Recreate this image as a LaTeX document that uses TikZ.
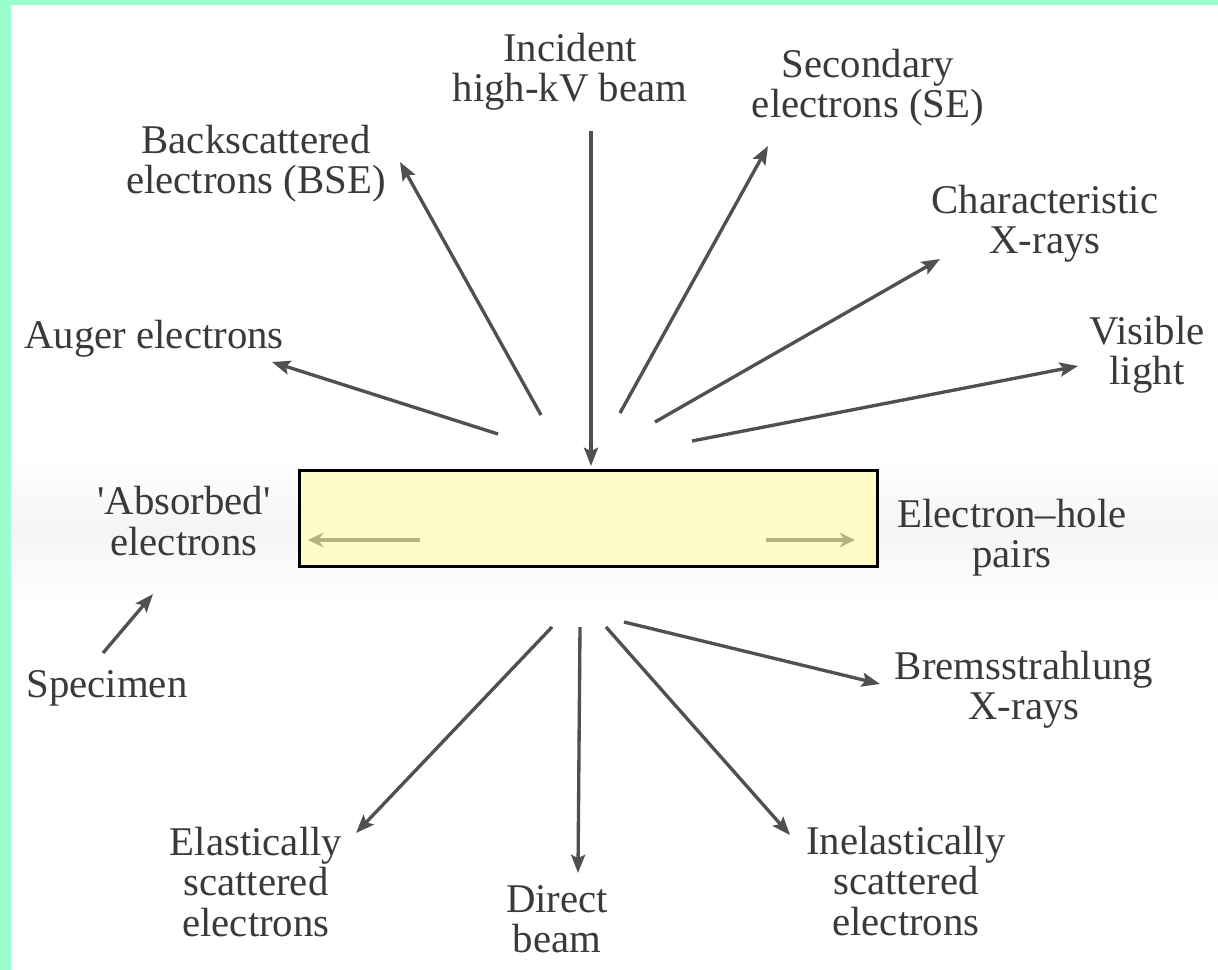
\documentclass[tikz,border=0pt]{standalone}
\usepackage{fontspec}
\setmainfont{Liberation Serif}
\usetikzlibrary{arrows.meta}
\definecolor{mint}{HTML}{99FFCC}
\definecolor{arrowgray}{HTML}{505050}
\definecolor{txtgray}{HTML}{3A3A3A}
\definecolor{specfill}{HTML}{FFFBC6}
\definecolor{khaki}{HTML}{B5B283}
\begin{document}
\begin{tikzpicture}[x=0.01cm,y=-0.01cm,
  lbl/.style={align=center, inner sep=0pt, text=txtgray, font=\fontsize{11.6}{11.4}\selectfont},
  ray/.style={draw=arrowgray, line width=0.95pt, -{Stealth[length=5.2pt,width=4pt,inset=1pt]}},
  innerarrow/.style={draw=khaki, line width=1pt, -{Stealth[length=4.4pt,width=4.2pt,inset=1.5pt]}},
  specbox/.style={draw=black, line width=0.85pt, fill=specfill, minimum width=5.77cm, minimum height=0.95cm, inner sep=0pt}]
\useasboundingbox (0,0) rectangle (1218,970);
\fill[white] (0,0) rectangle (1218,970);
\fill[mint] (0,0) rectangle (11,970);
\fill[mint] (0,0) rectangle (1218,5);
\shade[top color=white, bottom color=white, middle color=black!4] (12,455) rectangle (1218,605);

% specimen
\node[specbox] (spec) at (588.5,518.5) {};

% labels
\node[lbl] (inc) at (570,72) {Incident\\high-kV beam};
\node[lbl] (se) at (868,88) {Secondary\\electrons (SE)};
\node[lbl] (bse) at (256,164) {Backscattered\\electrons (BSE)};
\node[lbl] (char) at (1045,224) {Characteristic\\X-rays};
\node[lbl] (auger) at (154,339) {Auger electrons};
\node[lbl] (vis) at (1147,355) {Visible\\light};
\node[lbl] (abs) at (184,521) {\textquotesingle Absorbed\textquotesingle\\electrons};
\node[lbl] (ehp) at (1012,538) {Electron--hole\\pairs};
\node[lbl] (specimen) at (107,688) {Specimen};
\node[lbl] (brems) at (1024,690) {Bremsstrahlung\\X-rays};
\node[lbl] (elast) at (256,882) {Elastically\\scattered\\electrons};
\node[lbl] (direct) at (557,919) {Direct\\beam};
\node[lbl] (inel) at (906,881) {Inelastically\\scattered\\electrons};

% ray end points
\coordinate (incS) at (591,131);   \coordinate (incE) at (591,466);
\coordinate (bseS) at (541,415);   \coordinate (bseE) at (400,162);
\coordinate (seS) at (620,413);    \coordinate (seE) at (768,146);
\coordinate (charS) at (655,422);  \coordinate (charE) at (940,259);
\coordinate (visS) at (692,441);   \coordinate (visE) at (1078,366);
\coordinate (augS) at (498,434);   \coordinate (augE) at (272,362);
\coordinate (bremS) at (624,622);  \coordinate (bremE) at (880,684);
\coordinate (inelS) at (606,627);  \coordinate (inelE) at (790,835);
\coordinate (dirS) at (580,627);   \coordinate (dirE) at (578,873);
\coordinate (elS) at (552,627);    \coordinate (elE) at (356,833);
\coordinate (spS) at (103,653);    \coordinate (spE) at (153,594);
\coordinate (lS) at (420,540);     \coordinate (lE) at (308,540);
\coordinate (rS) at (766,540);     \coordinate (rE) at (855,540);

\draw[ray] (incS) -- (incE);
\draw[ray] (bseS) -- (bseE);
\draw[ray] (seS) -- (seE);
\draw[ray] (charS) -- (charE);
\draw[ray] (visS) -- (visE);
\draw[ray] (augS) -- (augE);
\draw[ray] (bremS) -- (bremE);
\draw[ray] (inelS) -- (inelE);
\draw[ray] (dirS) -- (dirE);
\draw[ray] (elS) -- (elE);
\draw[ray] (spS) -- (spE);
\draw[innerarrow] (lS) -- (lE);
\draw[innerarrow] (rS) -- (rE);
\end{tikzpicture}
\end{document}
